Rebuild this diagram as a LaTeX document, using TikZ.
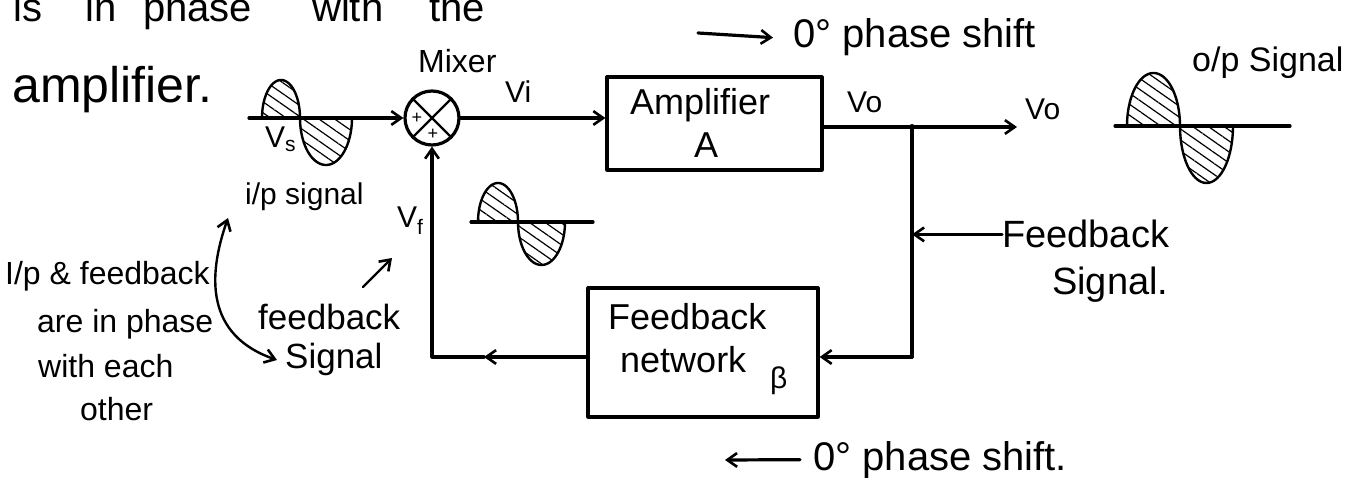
\documentclass[tikz,border=0pt]{standalone}
\usepackage{fontspec}
\setmainfont{Liberation Sans}
\usetikzlibrary{arrows.meta,patterns.meta}
\newcommand\mylobe[4]{%
  \path[pattern={Lines[angle=-35,distance=9pt,line width=1.2pt]}]
    plot[domain=0:180,samples=40] ({(#1+#2)/2-(#2-#1)/2*cos(\x)},{#3-(#4)*sin(\x)}) -- cycle;
  \draw[line width=2.4pt] plot[domain=0:180,samples=40] ({(#1+#2)/2-(#2-#1)/2*cos(\x)},{#3-(#4)*sin(\x)});
}
\begin{document}
\begin{tikzpicture}[x=1pt,y=-1pt,
  ln/.style={line width=3.2pt,line cap=round,line join=round},
  barb/.tip={Straight Barb[angle=70:12pt,line width=2.6pt]},
  arr/.style={ln,-barb},
  lbl/.style={inner sep=0pt,anchor=base west},
  f30/.style={font=\fontsize{30pt}{34pt}\selectfont},
  f32/.style={font=\fontsize{32pt}{36pt}\selectfont},
  f35/.style={font=\fontsize{35pt}{40pt}\selectfont},
  f36/.style={font=\fontsize{36pt}{40pt}\selectfont},
  f38/.style={font=\fontsize{38pt}{42pt}\selectfont},
  f40/.style={font=\fontsize{40pt}{44pt}\selectfont},
  blk/.style={ln,draw,inner sep=0pt}
]
\useasboundingbox (0,0) rectangle (1360,478);
\clip (0,0) rectangle (1360,478);

% top, cut-off line
\node[lbl,f40] (w1) at (13,22) {is};
\node[lbl,f40] (w2) at (85,22) {in};
\node[lbl,f40] (w3) at (143,22) {phase};
\node[lbl,f40] (w4) at (312,22) {with};
\node[lbl,f40] (w5) at (429,22) {the};

% top phase shift note
\node[lbl,f40] (ps1) at (793,48) {0° phase shift};
\coordinate (ta) at (698,33);
\draw[arr] (ta) -- ([xshift=-20pt]ps1.west);

\node[lbl,font=\fontsize{50pt}{54pt}\selectfont] (amptxt) at (12,103) {amplifier.};

% blocks
\node[blk,circle,minimum size=54pt] (mixer) at (432,118) {};
\draw[line width=2.4pt] (mixer.45) -- (mixer.225) (mixer.135) -- (mixer.315);
\node[inner sep=0pt,font=\fontsize{18pt}{18pt}\selectfont] (pl1) at (417,118) {+};
\node[inner sep=0pt,font=\fontsize{18pt}{18pt}\selectfont] (pl2) at (433,134) {+};
\node[lbl,f32] (mix) at (418,73) {Mixer};

\node[blk,minimum width=215pt,minimum height=93pt] (amp) at (714.5,123.5) {};
\node[lbl,f36] (ampa) at (630,115) {Amplifier};
\node[inner sep=0pt,anchor=base,f36] (ampb) at (706,158) {A};

\node[blk,minimum width=230pt,minimum height=129pt] (fb) at (703,352.5) {};
\node[lbl,f36] (fba) at (608,330) {Feedback};
\node[lbl,f36] (fbb) at (620,372) {network};
\node[lbl,f30] (beta) at (770,388) {β};

% input signal
\mylobe{262}{300}{118}{38}
\mylobe{300}{352}{118}{-47}
\coordinate (vin) at (249,118);
\draw[arr] (vin) -- (mixer.west);
\node[lbl,f30] (vs) at (265,148) {V\textsubscript{s}};
\node[lbl,f30] (ips) at (245,205) {i/p signal};

% forward path
\draw[arr] (mixer.east) -- (mixer.east -| amp.west);
\node[lbl,f30] (vi) at (505,103) {Vi};
\coordinate (j) at (912,127);
\coordinate (vout) at (1017,127);
\draw[ln] (amp.east |- j) -- (j);
\draw[arr] (j) -- (vout);
\fill (j) circle (3pt);
\node[lbl,f30] (vo1) at (847,113) {Vo};
\node[lbl,f30] (vo2) at (1025,120) {Vo};

% output signal
\mylobe{1127}{1180}{126}{53}
\mylobe{1180}{1233}{126}{-57}
\draw[ln] (1115,126) -- (1290,126);
\node[lbl,font=\fontsize{34pt}{38pt}\selectfont] (ops) at (1192,72) {o/p Signal};

% feedback path
\coordinate (c1) at (912,357);
\draw[ln] (j) -- (c1);
\draw[arr] (c1) -- (c1 -| fb.east);
\coordinate (c2) at (432,357);
\coordinate (m1) at (484,357);
\draw[arr] (c2 -| fb.west) -- (m1);
\draw[arr] (m1) -- (c2) -- (mixer.south);
\node[lbl,f30] (vf) at (397,228) {V\textsubscript{f}};

% feedback signal waveform
\mylobe{478}{518}{222}{39}
\mylobe{518}{565}{222}{-43}
\draw[ln] (471,222) -- (593,222);

% right note
\node[lbl,f38] (fsa) at (1002,248) {Feedback};
\node[lbl,f38] (fsb) at (1052,295) {Signal.};
\draw[arr] (fsa.west) -- (fsa.west -| j);

% middle note
\node[lbl,f35] (mfa) at (258,330) {feedback};
\node[lbl,f35] (mfb) at (285,368) {Signal};
\coordinate (sa) at (363,287);
\coordinate (sb) at (392,258);
\draw[line width=2.4pt,line cap=round,-barb] (sa) -- (sb);

% left note
\node[lbl,f32] (la) at (5,285) {I/p \& feedback};
\node[lbl,f32] (lb) at (37,332) {are in phase};
\node[lbl,f32] (lc) at (38,377) {with each};
\node[lbl,f32] (ld) at (80,420) {other};
\coordinate (ca) at (228,218);
\coordinate (cb) at (277,360);
\draw[line width=2.4pt,line cap=round,barb-barb] (ca) .. controls (208,275) and (205,335) .. (cb);

% bottom phase shift note
\node[lbl,f40] (ps2) at (813,470) {0° phase shift.};
\coordinate (tb) at (725,460);
\draw[arr] ([xshift=-13pt]ps2.west) -- (tb);
\end{tikzpicture}
\end{document}
